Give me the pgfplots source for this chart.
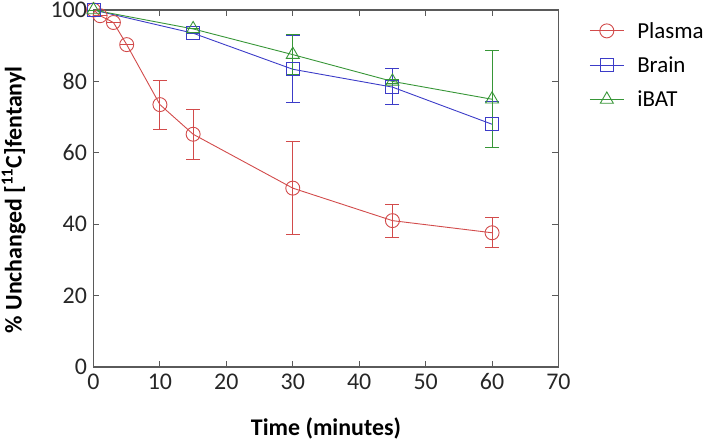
\documentclass[border=0pt]{standalone}
\usepackage{pgfplots}
\pgfplotsset{compat=1.18}
\usepackage{fontspec}
\setmainfont{Carlito}
\definecolor{cred}{RGB}{210,75,75}
\definecolor{cblue}{RGB}{60,60,200}
\definecolor{cgreen}{RGB}{55,150,55}
\definecolor{caxis}{RGB}{90,90,90}
\begin{document}
\begin{tikzpicture}[x=1bp,y=1bp]
\begin{axis}[
  name=ax,
  scale only axis,
  width=465bp, height=357bp,
  xmin=0, xmax=70, ymin=0, ymax=100,
  xtick={0,10,...,70}, ytick={0,20,...,100},
  tick align=inside,
  major tick length=6bp,
  axis line style={caxis, line width=1.1pt},
  tick style={caxis, line width=0.9pt},
  /pgf/number format/assume math mode=true,
  ticklabel style={font=\fontsize{24}{26}\selectfont, text=black!85},
  xticklabel style={yshift=-3bp},
  yticklabel style={xshift=-3bp},
  xlabel={\textbf{Time (minutes)}},
  ylabel={\textbf{\% Unchanged [\textsuperscript{11}C]fentanyl}},
  label style={font=\fontsize{24}{26}\selectfont},
  xlabel style={yshift=-21bp},
  ylabel style={at={(ticklabel cs:0.468)}, yshift=18bp},
  clip=false,
  legend style={draw=none, at={(1.066,0.972)}, anchor=north west,
    font=\fontsize{23}{25}\selectfont, row sep=13bp, inner xsep=0bp, inner ysep=0bp,
    /tikz/every odd column/.append style={column sep=11bp}},
  legend image code/.code={%
    \draw[mark repeat=2, mark phase=2] plot coordinates {(0bp,0bp) (17bp,0bp) (34bp,0bp)};},
  legend cell align=left,
  every axis plot/.append style={line width=0.9pt},
  error bars/y dir=both, error bars/y explicit,
]
\addplot[cred, mark=o, mark size=7bp, mark options={solid, line width=0.9pt},
  error bars/error bar style={cred, line width=0.9pt},
  error bars/error mark options={rotate=90, mark size=7bp, cred, line width=0.9pt}]
coordinates {
 (0,100) +- (0,0)
 (1,98.4) +- (0,0)
 (3,96.5) +- (0,0)
 (5,90.3) +- (0,0)
 (10,73.5) += (0,6.8) -= (0,7)
 (15,65.2) += (0,7) -= (0,7.2)
 (30,50.1) += (0,13) -= (0,13.1)
 (45,41) += (0,4.5) -= (0,4.6)
 (60,37.6) += (0,4.3) -= (0,4.2)
};
\addlegendentry{Plasma}
\addplot[cblue, mark=square, mark size=6.5bp, mark options={solid, line width=0.9pt},
  error bars/error bar style={cblue, line width=0.9pt},
  error bars/error mark options={rotate=90, mark size=7bp, cblue, line width=0.9pt}]
coordinates {
 (0,100) +- (0,0)
 (15,93.5) +- (0,0)
 (30,83.4) += (0,9.6) -= (0,9.3)
 (45,78.4) += (0,5.2) -= (0,4.8)
 (60,68) += (0,6.3) -= (0,6.5)
};
\addlegendentry{Brain}
\addplot[cgreen, mark=triangle, mark size=7.5bp, mark options={solid, line width=0.9pt},
  error bars/error bar style={cgreen, line width=0.9pt},
  error bars/error mark options={rotate=90, mark size=7bp, cgreen, line width=0.9pt}]
coordinates {
 (0,100) +- (0,0)
 (15,94.7) +- (0,0)
 (30,87.5) += (0,5.7) -= (0,5.5)
 (45,80) += (0,0.5) -= (0,0.5)
 (60,75) += (0,13.8) -= (0,13.5)
};
\addlegendentry{iBAT}
\end{axis}
\pgfresetboundingbox
\path ([shift={(-93.5bp,-74bp)}]ax.south west) rectangle ([shift={(614.5bp,367bp)}]ax.south west);
\end{tikzpicture}
\end{document}
